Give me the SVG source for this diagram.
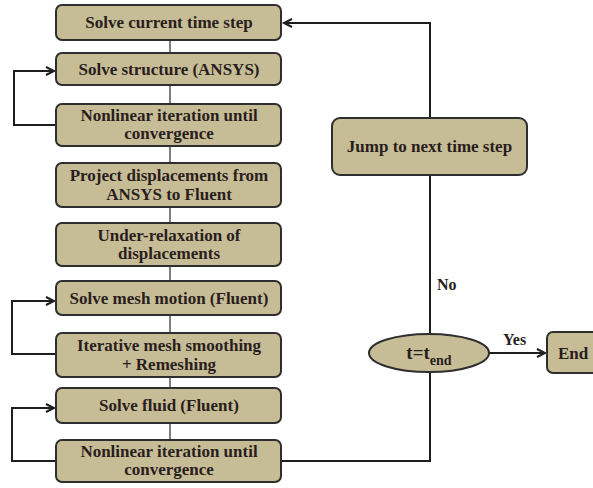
<svg xmlns="http://www.w3.org/2000/svg" width="593" height="488" viewBox="0 0 593 488">
  <defs>
    <marker id="arr" markerUnits="userSpaceOnUse" markerWidth="12" markerHeight="12" refX="9" refY="5" orient="auto">
      <path d="M1,1 L9,5 L1,9" fill="none" stroke="#1e1e1e" stroke-width="2"/>
    </marker>
  </defs>
  <style>
    .box { fill: #c6bd96; stroke: #2e2e2e; stroke-width: 2; }
    .t { font-family: "Liberation Serif", "Times New Roman", serif; font-weight: bold; font-size: 17px; fill: #2a1d1d; text-anchor: middle; }
    .lbl { font-family: "Liberation Serif", "Times New Roman", serif; font-weight: bold; font-size: 16px; fill: #2a1d1d; }
    .conn { fill: none; stroke: #1e1e1e; stroke-width: 2; }
    .link { fill: none; stroke: #555; stroke-width: 1.5; }
  </style>
  <rect width="593" height="488" fill="#ffffff"/>

  <g id="connectors">
    <path class="link" d="M170,40 V53 M170,85 V104 M170,146 V163 M170,207 V223 M170,266 V281 M170,315 V333 M170,377 V388 M170,423 V440"/>
    <path class="conn" d="M56,125 H14 V71 H54" marker-end="url(#arr)"/>
    <path class="conn" d="M56,354 H12 V301 H54" marker-end="url(#arr)"/>
    <path class="conn" d="M56,461 H12 V408 H54" marker-end="url(#arr)"/>
    <path class="conn" d="M281,461 H430 V372"/>
    <path class="conn" d="M430,334 V175"/>
    <path class="conn" d="M430,118 V23 H284" marker-end="url(#arr)"/>
    <path class="conn" d="M489,353 H545" marker-end="url(#arr)"/>
    <text class="lbl" x="437" y="290">No</text>
    <text class="lbl" x="503" y="345">Yes</text>
  </g>

  <g id="n1"><rect class="box" x="56" y="5" width="225" height="35" rx="6"/><text class="t" x="169" y="28">Solve current time step</text></g>
  <g id="n2"><rect class="box" x="56" y="53" width="225" height="32" rx="6"/><text class="t" x="169" y="75">Solve structure (ANSYS)</text></g>
  <g id="n3"><rect class="box" x="56" y="104" width="225" height="42" rx="6"/><text class="t" x="169" y="121">Nonlinear iteration until</text><text class="t" x="169" y="139">convergence</text></g>
  <g id="n4"><rect class="box" x="56" y="163" width="225" height="44" rx="6"/><text class="t" x="169" y="181">Project displacements from</text><text class="t" x="169" y="200">ANSYS to Fluent</text></g>
  <g id="n5"><rect class="box" x="56" y="223" width="225" height="43" rx="6"/><text class="t" x="169" y="241">Under-relaxation of</text><text class="t" x="169" y="259">displacements</text></g>
  <g id="n6"><rect class="box" x="56" y="281" width="225" height="34" rx="6"/><text class="t" x="169" y="304">Solve mesh motion (Fluent)</text></g>
  <g id="n7"><rect class="box" x="56" y="333" width="225" height="44" rx="6"/><text class="t" x="169" y="351">Iterative mesh smoothing</text><text class="t" x="169" y="370">+ Remeshing</text></g>
  <g id="n8"><rect class="box" x="56" y="388" width="225" height="35" rx="6"/><text class="t" x="169" y="411">Solve fluid (Fluent)</text></g>
  <g id="n9"><rect class="box" x="56" y="440" width="225" height="42" rx="6"/><text class="t" x="169" y="457">Nonlinear iteration until</text><text class="t" x="169" y="475">convergence</text></g>

  <g id="jump"><rect class="box" x="332" y="118" width="195" height="57" rx="8"/><text class="t" x="429.5" y="152">Jump to next time step</text></g>
  <g id="decision"><ellipse class="box" cx="429" cy="353" rx="60" ry="19"/><text class="t" x="429" y="359" style="font-size:19px">t=t<tspan dy="6" style="font-size:14px">end</tspan></text></g>
  <g id="end"><rect class="box" x="547" y="332" width="60" height="41" rx="6"/><text class="lbl" x="558" y="359" style="font-size:17px">End</text></g>
</svg>
